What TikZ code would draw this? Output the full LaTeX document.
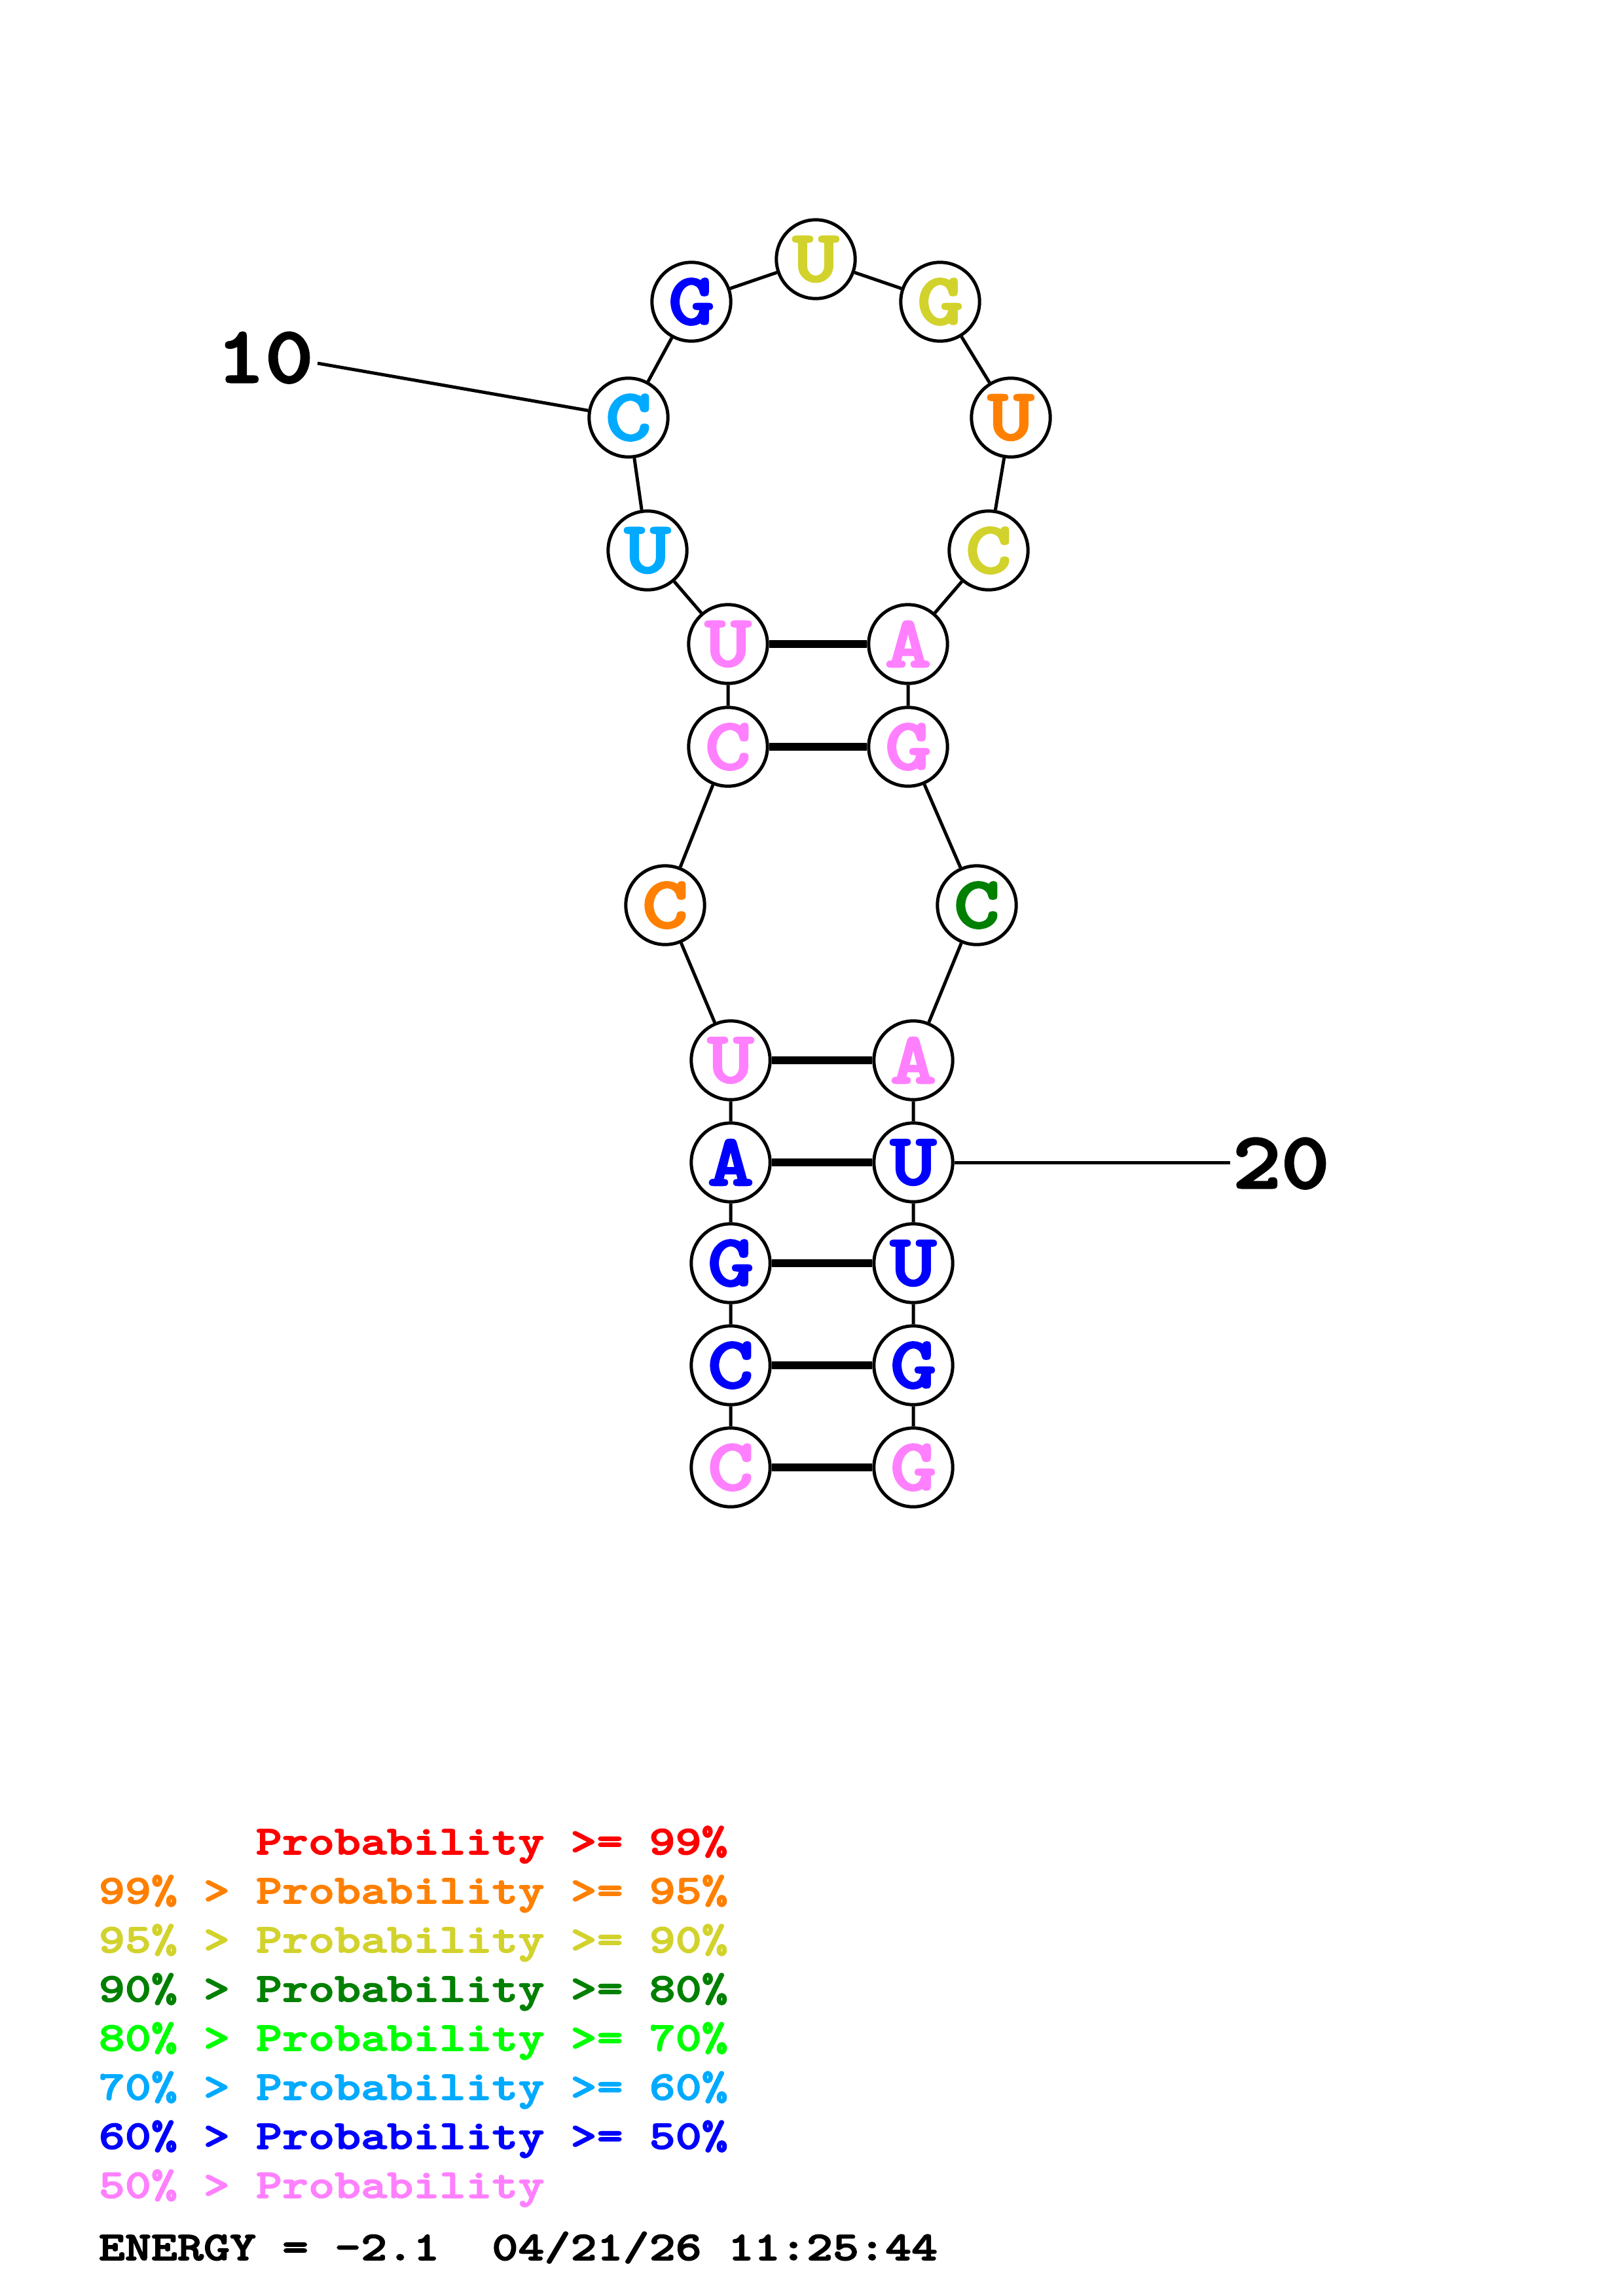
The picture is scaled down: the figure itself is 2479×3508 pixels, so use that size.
\documentclass[tikz,border=0pt]{standalone}
\usepackage{fontspec}
\newfontfamily\courb{lmmonolt10-bold.otf}[FakeBold=2.5,FakeStretch=1.2]
\newfontfamily\courl{lmmonolt10-bold.otf}[FakeBold=2.5,FakeStretch=1.225]
\newfontfamily\courn{lmmonolt10-bold.otf}[FakeBold=2.5,FakeStretch=1.15]
\definecolor{cRed}{RGB}{255,0,0}
\definecolor{cOrange}{RGB}{255,128,0}
\definecolor{cYellow}{RGB}{210,210,45}
\definecolor{cDkGreen}{RGB}{0,128,0}
\definecolor{cGreen}{RGB}{0,255,0}
\definecolor{cCyan}{RGB}{0,170,255}
\definecolor{cBlue}{RGB}{0,0,255}
\definecolor{cPink}{RGB}{255,128,255}
\begin{document}
\begin{tikzpicture}[x=0.2409pt,y=-0.2409pt,
  base/.style={circle,draw=black,line width=1.2pt,fill=white,minimum size=29pt,inner sep=0pt,
    font=\fontsize{27}{27}\selectfont\courb},
  bbone/.style={line width=1.2pt},
  bpair/.style={line width=2.7pt},
  leg/.style={anchor=base west,inner sep=0pt,font=\fontsize{15}{15}\selectfont\courl},
  lab/.style={anchor=base west,inner sep=0pt,font=\fontsize{29.5}{29.5}\selectfont\courn}]
\useasboundingbox (0,0) rectangle (2479,3508);
\fill[white] (0,0) rectangle (2479,3508);
% nucleotides
\node[base,text=cPink]  (n1)  at (1116,2242) {C};
\node[base,text=cBlue]  (n2)  at (1116,2086) {C};
\node[base,text=cBlue]  (n3)  at (1116,1930) {G};
\node[base,text=cBlue]  (n4)  at (1116,1776) {A};
\node[base,text=cPink]  (n5)  at (1116,1620) {U};
\node[base,text=cOrange](n6)  at (1016,1383) {C};
\node[base,text=cPink]  (n7)  at (1112,1141) {C};
\node[base,text=cPink]  (n8)  at (1112,984)  {U};
\node[base,text=cCyan]  (n9)  at (989,841)   {U};
\node[base,text=cCyan]  (n10) at (960,638)   {C};
\node[base,text=cBlue]  (n11) at (1056,461)  {G};
\node[base,text=cYellow](n12) at (1246,396)  {U};
\node[base,text=cYellow](n13) at (1436,461)  {G};
\node[base,text=cOrange](n14) at (1544,638)  {U};
\node[base,text=cYellow](n15) at (1510,841)  {C};
\node[base,text=cPink]  (n16) at (1387,984)  {A};
\node[base,text=cPink]  (n17) at (1387,1141) {G};
\node[base,text=cDkGreen](n18) at (1492,1383) {C};
\node[base,text=cPink]  (n19) at (1395,1620) {A};
\node[base,text=cBlue]  (n20) at (1395,1776) {U};
\node[base,text=cBlue]  (n21) at (1395,1930) {U};
\node[base,text=cBlue]  (n22) at (1395,2086) {G};
\node[base,text=cPink]  (n23) at (1395,2242) {G};
% backbone
\draw[bbone] (n1)--(n2)--(n3)--(n4)--(n5)--(n6)--(n7)--(n8)--(n9)--(n10)--(n11)--(n12)
  --(n13)--(n14)--(n15)--(n16)--(n17)--(n18)--(n19)--(n20)--(n21)--(n22)--(n23);
% pairs
\draw[bpair] (n1)--(n23);
\draw[bpair] (n2)--(n22);
\draw[bpair] (n3)--(n21);
\draw[bpair] (n4)--(n20);
\draw[bpair] (n5)--(n19);
\draw[bpair] (n7)--(n17);
\draw[bpair] (n8)--(n16);
% position labels
\node[lab] (l10) at (330,584) {10};
\coordinate (t10) at (485,555);
\draw[bbone] (t10)--(n10);
\node[lab] (l20) at (1882,1815) {20};
\coordinate (t20) at (1879,1776);
\draw[bbone] (n20)--(t20);
% legend
\node[leg,text=cRed]     (g1) at (390,2833) {Probability >= 99\%};
\node[leg,text=cOrange]  (g2) at (150,2908) {99\% > Probability >= 95\%};
\node[leg,text=cYellow]  (g3) at (150,2983) {95\% > Probability >= 90\%};
\node[leg,text=cDkGreen] (g4) at (150,3058) {90\% > Probability >= 80\%};
\node[leg,text=cGreen]   (g5) at (150,3133) {80\% > Probability >= 70\%};
\node[leg,text=cCyan]    (g6) at (150,3208) {70\% > Probability >= 60\%};
\node[leg,text=cBlue]    (g7) at (150,3283) {60\% > Probability >= 50\%};
\node[leg,text=cPink]    (g8) at (150,3358) {50\% > Probability};
\node[leg,text=black]    (en) at (150,3453) {ENERGY = -2.1~~04/21/26 11:25:44};
\end{tikzpicture}
\end{document}
